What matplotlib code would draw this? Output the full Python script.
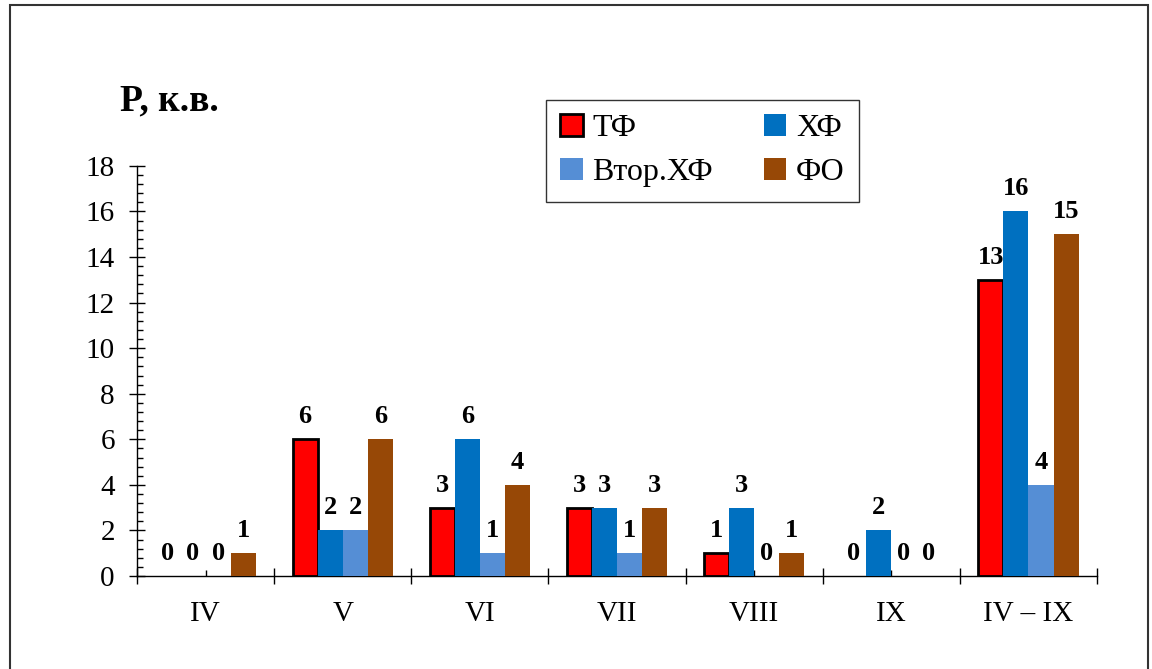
import matplotlib
matplotlib.use('Agg')
import matplotlib.pyplot as plt
from matplotlib.patches import Rectangle, Patch
import numpy as np

plt.rcParams['font.family'] = ['Liberation Serif', 'DejaVu Serif']

# months and the four series
months = ['IV', 'V', 'VI', 'VII', 'VIII', 'IX', 'IV – IX']
series = ['ТФ', 'ХФ', 'Втор.ХФ', 'ФО']
tf = [0, 6, 3, 3, 1, 0, 13]
hf = [0, 2, 6, 3, 3, 2, 16]
vtor_hf = [0, 2, 1, 1, 0, 0, 4]
fo = [1, 6, 4, 3, 1, 0, 15]

colors = ['#FF0000', '#0070C0', '#558ED5', '#974806']
values = [tf, hf, vtor_hf, fo]

fig = plt.figure(figsize=(11.52, 6.69), dpi=100)
ax = fig.add_axes([0.1189, 0.139, 0.8334, 0.613])

x = np.arange(len(months))
w = 0.1825
for i, (vals, col) in enumerate(zip(values, colors)):
    pos = x + (i - 1.5) * w
    bars = ax.bar(pos, vals, w, color=col, linewidth=0, zorder=3)
    for b, v in zip(bars, vals):
        if i == 0 and v > 0:
            b.set_edgecolor('black')
            b.set_linewidth(2)
        ax.annotate(str(v), (b.get_x() + b.get_width() / 2, v),
                    xytext=(0, 8), textcoords='offset points',
                    ha='center', va='bottom', fontsize=19, fontweight='bold')

ax.set_xlim(-0.5, len(months) - 0.5)
ax.set_ylim(0, 18)
ax.set_yticks(np.arange(0, 19, 2))
ax.set_yticks(np.arange(0, 18.01, 0.4), minor=True)
ax.tick_params(axis='y', which='major', direction='inout', length=12, width=1,
               labelsize=21, pad=10)
ax.tick_params(axis='y', which='minor', direction='in', length=4.5, width=1)

# category boundaries as major ticks, labels on the centres
ax.set_xticks(np.arange(-0.5, len(months), 1))
ax.set_xticklabels([])
ax.set_xticks(x, minor=True)
ax.set_xticklabels(months, minor=True)
ax.tick_params(axis='x', which='major', direction='inout', length=12, width=1)
ax.tick_params(axis='x', which='minor', direction='in', length=4.5, width=1,
               labelsize=21, pad=18)

for s in ['top', 'right']:
    ax.spines[s].set_visible(False)
for s in ['left', 'bottom']:
    ax.spines[s].set_linewidth(1)

fig.text(0.104, 0.835, 'P, к.в.', fontsize=27, fontweight='bold', ha='left', va='baseline')

handles = [Patch(facecolor=colors[0], edgecolor='black', linewidth=2),
           Patch(facecolor=colors[2], linewidth=0),
           Patch(facecolor=colors[1], linewidth=0),
           Patch(facecolor=colors[3], linewidth=0)]
labels = [series[0], series[2], series[1], series[3]]
leg = fig.legend(handles, labels, ncol=2, loc='upper left',
                 bbox_to_anchor=(0.474, 0.851), fontsize=23,
                 frameon=True, fancybox=False, edgecolor='black',
                 handlelength=0.7, handleheight=0.7, handletextpad=0.3,
                 columnspacing=1.6, borderpad=0.45, labelspacing=0.45,
                 borderaxespad=0)
leg.get_frame().set_linewidth(1)

# outer frame
fig.add_artist(Rectangle((10 / 1152, -0.05), 1138 / 1152, 1.05 - 5 / 669,
                         transform=fig.transFigure, fill=False,
                         edgecolor='#333333', linewidth=1.5))

plt.savefig('out.png', dpi=100)
